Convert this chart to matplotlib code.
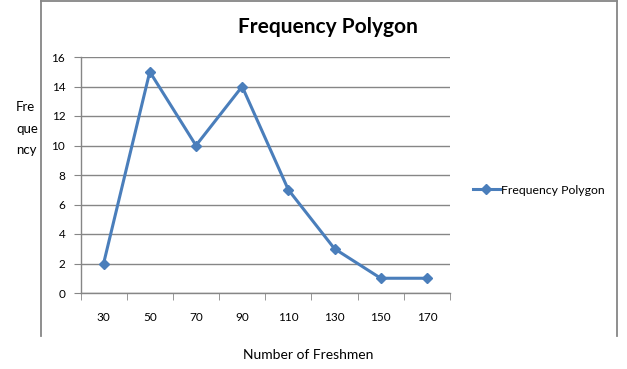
import matplotlib
matplotlib.use("Agg")
import matplotlib.pyplot as plt
from matplotlib.lines import Line2D

categories = ["30", "50", "70", "90", "110", "130", "150", "170"]
frequency = [2, 15, 10, 14, 7, 3, 1, 1]
yticks = [0, 2, 4, 6, 8, 10, 12, 14, 16]

W, H = 627, 369
fig = plt.figure(figsize=(W / 100, H / 100), dpi=100)
plt.rcParams['font.family'] = ['Lato', 'DejaVu Sans']

def fx(px):
    return px / W

def fy(py):
    return 1 - py / H

# outer frame (left, top, right)
grey = "#868686"
fig.add_artist(Line2D([fx(40.5), fx(40.5)], [fy(336), fy(1)], color=grey, lw=1.3, transform=fig.transFigure))
fig.add_artist(Line2D([fx(40.5), fx(616.5)], [fy(1), fy(1)], color=grey, lw=1.3, transform=fig.transFigure))
fig.add_artist(Line2D([fx(616.5), fx(616.5)], [fy(1), fy(336)], color=grey, lw=1.3, transform=fig.transFigure))

left, right, top, bottom = 80.5, 450, 57, 293
ax = fig.add_axes([fx(left), fy(bottom), fx(right - left), (bottom - top) / H])

x = list(range(len(categories)))
line, = ax.plot(x, frequency, color="#4A7EBB", lw=2.2, marker="D", markersize=5,
                label="Frequency Polygon", solid_joinstyle="round")

ax.set_xlim(-0.5, len(categories) - 0.5)
ax.set_ylim(0, 16)
ax.set_yticks(yticks)
ax.set_yticklabels([str(v) for v in yticks], fontsize=8.5)
ax.yaxis.grid(True, color=grey, lw=1)
ax.set_axisbelow(True)

ax.set_xticks(x)
ax.set_xticklabels(categories, fontsize=8.5)
ax.set_xticks([i - 0.5 for i in range(len(categories) + 1)], minor=True)
ax.tick_params(axis="x", which="major", length=0, pad=14)
ax.tick_params(axis="x", which="minor", length=5, color=grey, direction="out")
ax.tick_params(axis="y", length=5, color=grey, direction="out", pad=6)

for s in ["top", "right"]:
    ax.spines[s].set_visible(False)
for s in ["left", "bottom"]:
    ax.spines[s].set_color(grey)
    ax.spines[s].set_linewidth(1)

fig.text(fx(328), fy(27), "Frequency Polygon", ha="center", va="center",
         fontsize=15, fontweight="bold")
fig.text(fx(308), fy(355), "Number of Freshmen", ha="center", va="center", fontsize=10)
for txt, yy in [("Fre", 107), ("que", 129), ("ncy", 150)]:
    fig.text(fx(16), fy(yy), txt, ha="left", va="center", fontsize=9.5)

fig.legend(handles=[line], loc="center left", bbox_to_anchor=(fx(468), fy(190)),
           frameon=False, fontsize=8.8, handlelength=2.2, handletextpad=0.1,
           borderaxespad=0)

fig.savefig("out.png", dpi=100, facecolor="white")
